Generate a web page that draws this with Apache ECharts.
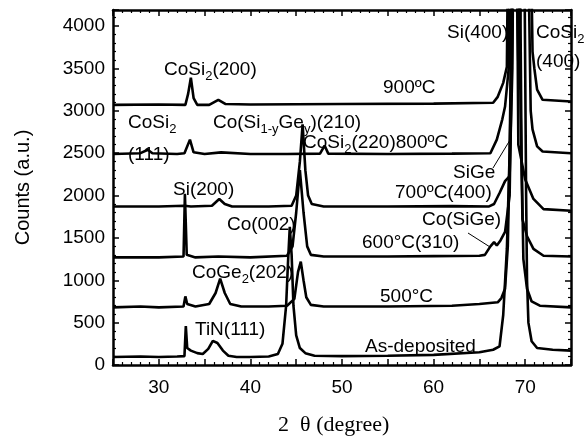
<!DOCTYPE html>
<html><head><meta charset="utf-8">
<script src="https://cdn.jsdelivr.net/npm/echarts@6/dist/echarts.min.js"></script>
<style>html,body{margin:0;padding:0;background:#fff}#c{width:586px;height:441px}</style>
</head><body><div id="c"></div>
<script>
// ---- data (2θ in degree, counts in a.u.) ----
const xTickLabels = [30, 40, 50, 60, 70];
const yTickLabels = [0, 500, 1000, 1500, 2000, 2500, 3000, 3500, 4000];

const asDeposited = [[25,95],[28,100],[30,95],[32,100],[32.8,105],[32.95,460],[33.1,200],[33.5,170],[34.2,140],[34.8,130],[35.4,190],[35.9,285],[36.4,260],[37.0,170],[37.6,110],[38.5,95],[40,95],[42,100],[43,130],[43.5,250],[43.9,700],[44.1,1200],[44.3,1630],[44.5,1300],[44.7,700],[45.0,350],[45.4,200],[46,140],[47,110],[50,105],[55,110],[60,120],[65,150],[66.5,180],[67.2,220],[67.6,590],[68.0,1370],[68.3,2500],[68.6,5000],[69.2,8000],[69.9,5000],[70.1,2000],[70.2,1000],[70.35,500],[70.7,280],[71.3,200],[73,180],[75,170]];

const c500 = [[25,680],[28,690],[30,680],[32.7,690],[32.9,810],[33.1,720],[34,690],[35.5,720],[36.2,850],[36.7,1020],[37.2,850],[37.8,720],[39,690],[42,690],[44,700],[44.8,780],[45.2,1100],[45.5,1220],[45.8,1000],[46.1,800],[46.6,710],[48,690],[55,690],[62,700],[65,720],[67,740],[67.4,790],[67.8,900],[68.1,1400],[68.4,3000],[68.8,8000],[69.2,8000],[69.6,2500],[69.8,1250],[70.2,900],[70.7,750],[71.6,700],[75,680]];

const c600 = [[25,1270],[30,1270],[32.7,1280],[32.85,2020],[33.05,1300],[34,1270],[36.5,1280],[40,1270],[44,1290],[44.6,1400],[45.0,1800],[45.4,2300],[45.8,1800],[46.2,1400],[46.6,1300],[48,1280],[55,1280],[60,1285],[65,1290],[65.6,1300],[66.2,1400],[66.6,1450],[66.9,1410],[67.3,1470],[67.8,1570],[68.3,2000],[68.6,4000],[69.0,8000],[69.5,3000],[69.7,1720],[70.2,1520],[70.9,1370],[72,1290],[75,1280]];

const c700 = [[25,1870],[30,1870],[32.8,1880],[33.5,1870],[35.8,1880],[36.6,1960],[37.2,1900],[38,1870],[42,1870],[44.5,1880],[45.0,2000],[45.4,2400],[45.7,2840],[46.0,2300],[46.3,2000],[46.7,1900],[48,1870],[55,1870],[62,1875],[66.0,1870],[66.6,1900],[67.2,2030],[67.8,2170],[68.3,2230],[68.6,3500],[68.9,8000],[69.25,2600],[70.0,2190],[70.9,1960],[72.0,1840],[75,1820]];

const c800 = [[25,2490],[28,2500],[28.8,2540],[29.3,2500],[32,2490],[32.8,2500],[33.4,2660],[33.8,2510],[35,2490],[36.8,2510],[40,2490],[44,2490],[47.6,2495],[48.1,2590],[48.5,2495],[55,2490],[62,2495],[66.2,2500],[66.9,2660],[67.5,2900],[67.8,3050],[68.2,3500],[68.5,8000],[69.3,3250],[69.9,8000],[70.6,3000],[70.8,2780],[71.3,2580],[71.9,2520],[75,2500]];

const c900 = [[25,3070],[30,3075],[32.9,3070],[33.2,3200],[33.5,3390],[33.8,3150],[34.2,3070],[35.5,3070],[36.5,3130],[37.3,3080],[40,3075],[50,3080],[60,3085],[66.5,3095],[67.0,3165],[67.6,3330],[68.0,3520],[68.4,8000],[69.4,3900],[70.2,8000],[70.8,3700],[71.0,3500],[71.3,3250],[71.9,3130],[75,3110]];

const seriesList = [asDeposited, c500, c600, c700, c800, c900];

// ---- chart ----
const chart = echarts.init(document.getElementById('c'), null, {renderer: 'canvas'});
const F = '"Liberation Sans", Arial, sans-serif';
const axisCommon = {
  axisLine: {show: true, onZero: false, lineStyle: {color: '#000', width: 2.5}},
  axisTick: {show: true, inside: true, length: 6, lineStyle: {color: '#000', width: 1.5}},
  minorTick: {show: true, length: 3, lineStyle: {color: '#000', width: 1.2}},
  splitLine: {show: false}
};
const xBase = Object.assign({type: 'value', min: 25, max: 75, interval: 5}, axisCommon);
xBase.minorTick = Object.assign({splitNumber: 5}, axisCommon.minorTick);
const yBase = Object.assign({type: 'value', min: 0, max: 4190, interval: 500}, axisCommon);
yBase.minorTick = Object.assign({splitNumber: 5}, axisCommon.minorTick);

// text with subscripts, built from separate pieces
const MAIN = 19, SUB = 13;
const mctx = document.createElement('canvas').getContext('2d');
function tw(t, size) { mctx.font = size + 'px ' + F; return mctx.measureText(t).width; }
function label(x, y, parts) {
  if (typeof parts === 'string') parts = [[parts, false]];
  const out = [];
  let cx = x;
  parts.forEach(([t, sub]) => {
    const size = sub ? SUB : MAIN;
    out.push({type: 'text', x: cx, y: sub ? y + 6 : y, silent: true, z: 10,
      style: {text: t, fill: '#000', font: size + 'px ' + F,
        align: 'left', verticalAlign: 'middle', textAlign: 'left', textVerticalAlign: 'middle'}});
    cx += tw(t, size);
  });
  return out;
}

const graphics = [].concat(
  label(164, 70, [['CoSi', false], ['2', true], ['(200)', false]]),
  label(383, 88, '900ºC'),
  label(447, 33, 'Si(400)'),
  label(536, 33, [['CoSi', false], ['2', true]]),
  label(536, 62, '(400)'),
  label(128, 123, [['CoSi', false], ['2', true]]),
  label(128, 155, '(111)'),
  label(213, 123, [['Co(Si', false], ['1-y', true], ['Ge', false], ['y', true], [')(210)', false]]),
  label(303, 143, [['CoSi', false], ['2', true], ['(220)800ºC', false]]),
  label(453, 173, 'SiGe'),
  label(395, 193, '700ºC(400)'),
  label(422, 220, 'Co(SiGe)'),
  label(362, 243, '600°C(310)'),
  label(380, 297, '500°C'),
  label(365, 347, 'As-deposited'),
  label(173, 190, 'Si(200)'),
  label(227, 225, 'Co(002)'),
  label(192, 273, [['CoGe', false], ['2', true], ['(202)', false]]),
  label(195, 330, 'TiN(111)'),
  [
    {type: 'line', silent: true, shape: {x1: 493, y1: 168, x2: 510, y2: 140}, style: {stroke: '#000', lineWidth: 1}},
    {type: 'line', silent: true, shape: {x1: 468, y1: 233, x2: 490, y2: 247}, style: {stroke: '#000', lineWidth: 1}}
  ]
);

const option = {
  animation: false,
  backgroundColor: '#fff',
  grid: {left: 113, right: 15, top: 10, bottom: 74},
  xAxis: [
    Object.assign({}, xBase, {
      position: 'bottom',
      name: '2  θ (degree)   ', nameLocation: 'middle', nameGap: 49,
      nameTextStyle: {fontFamily: '"Liberation Serif", "Times New Roman", serif', fontSize: 22, color: '#000'},
      axisLabel: {margin: 13, fontSize: 19, fontFamily: F, color: '#000',
        formatter: v => xTickLabels.indexOf(v) >= 0 ? String(v) : ''}
    }),
    Object.assign({}, xBase, {position: 'top', axisLabel: {show: false}})
  ],
  yAxis: [
    Object.assign({}, yBase, {
      position: 'left',
      name: 'Counts (a.u.)', nameLocation: 'middle', nameGap: 80, nameRotate: 90,
      nameTextStyle: {fontFamily: F, fontSize: 20, color: '#000'},
      axisLabel: {margin: 8, fontSize: 19, fontFamily: F, color: '#000',
        formatter: v => yTickLabels.indexOf(v) >= 0 ? String(v) : ''}
    }),
    Object.assign({}, yBase, {position: 'right', axisLabel: {show: false}})
  ],
  series: seriesList.map(d => ({
    type: 'line', data: d, xAxisIndex: 0, yAxisIndex: 0,
    showSymbol: false, symbol: 'none', smooth: false, clip: true,
    lineStyle: {color: '#000', width: 2.6}
  })),
  graphic: graphics
};
chart.setOption(option);
</script>
</body></html>
